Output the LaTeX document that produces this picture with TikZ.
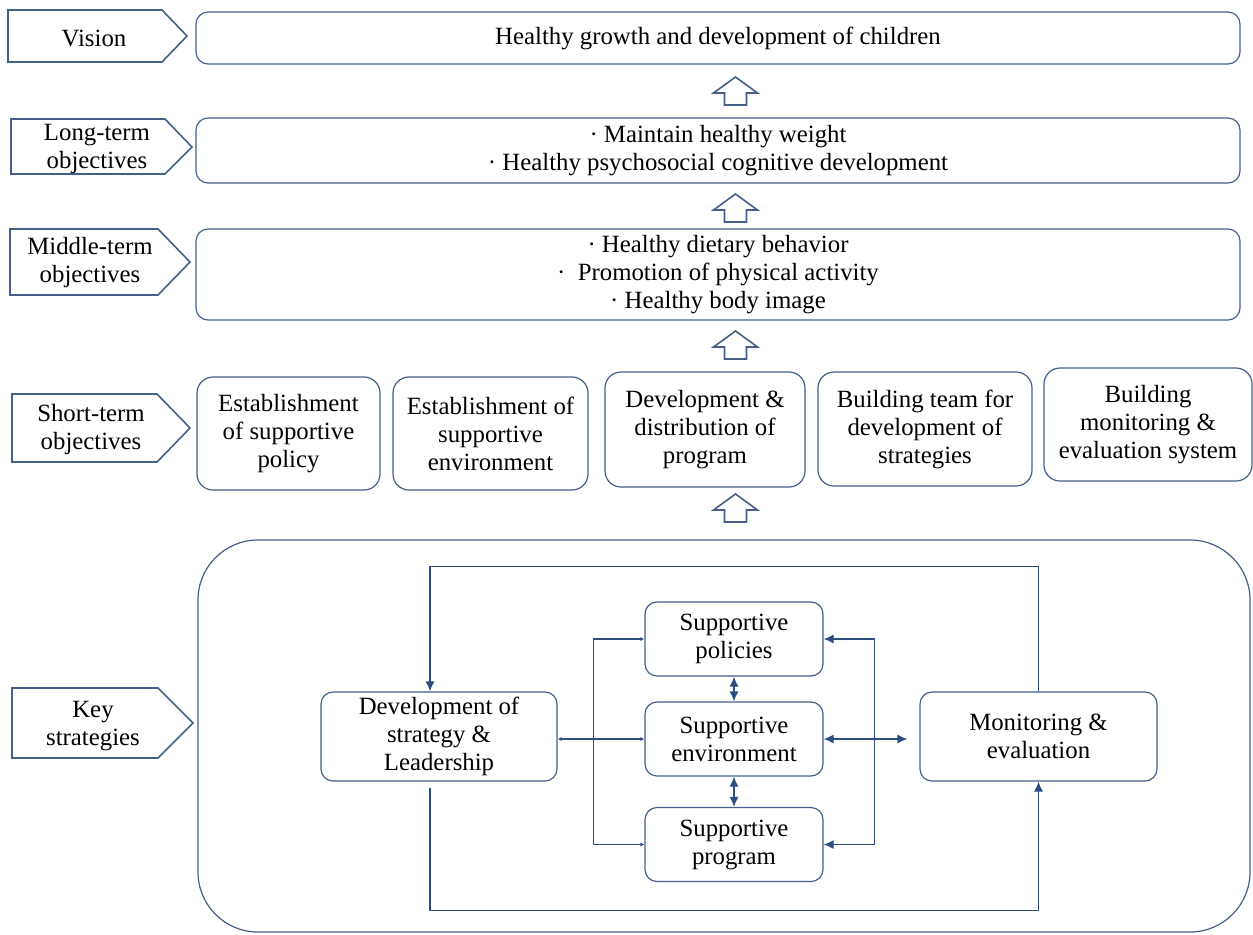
\documentclass[tikz,border=0pt]{standalone}
\usepackage{fontspec}
\setmainfont{Liberation Serif}
\usetikzlibrary{arrows.meta}
\definecolor{boxline}{RGB}{68,96,138}
\definecolor{linkline}{RGB}{45,78,128}
\tikzset{
	rbox/.style={draw=boxline, line width=0.6pt, rounded corners=6pt, align=center, inner sep=1pt},
	tagline/.style={draw=boxline, line width=0.8pt},
	tagtext/.style={align=center, inner sep=0pt},
	blockline/.style={draw=boxline, line width=0.8pt, fill=white},
	link/.style={draw=linkline, line width=0.6pt},
	bigtip/.style={-{Latex[length=5pt,width=4.5pt]}},
	twotip/.style={{Latex[length=5pt,width=4.5pt]}-{Latex[length=5pt,width=4.5pt]}},
	smalltip/.style={{Latex[length=2pt,width=2pt]}-{Latex[length=2pt,width=2pt]}}
}
\def\upblock(#1,#2){\draw[blockline, shift={(#1,#2)}] (0,0) -- (22,16) -- (11,16) -- (11,28) -- (-11,28) -- (-11,16) -- (-22,16) -- cycle;}

\begin{document}
\begin{tikzpicture}[x=0.5pt, y=-0.5pt, font=\fontsize{12.4}{14}\selectfont]
	%%%%% START %%%%%
	\useasboundingbox (0,0) rectangle (1253,934);
	
	% tags on the left
	\draw[tagline] (8,10) -- (162,10) -- (187,36) -- (162,62) -- (8,62) -- cycle;
	\node[tagtext] (tvis) at (94,38) {Vision};
	\draw[tagline] (11,119) -- (165,119) -- (192,147) -- (165,174) -- (11,174) -- cycle;
	\node[tagtext] (tlong) at (97,149) {Long-term\\objectives};
	\draw[tagline] (10,229) -- (158,229) -- (190,262) -- (158,295) -- (10,295) -- cycle;
	\node[tagtext] (tmid) at (90,263) {Middle-term\\objectives};
	\draw[tagline] (12,394) -- (157,394) -- (190,428) -- (157,462) -- (12,462) -- cycle;
	\node[tagtext] (tshort) at (91,430) {Short-term\\objectives};
	\draw[tagline] (12,688) -- (158,688) -- (193,723) -- (158,758) -- (12,758) -- cycle;
	\node[tagtext] (tkey) at (93,726) {Key\\strategies};
	
	% objectives
	\node[rbox, minimum width=522pt, minimum height=26pt] (vision) at (718,38) {Healthy growth and development of children};
	\node[rbox, minimum width=522pt, minimum height=32.5pt] (long) at (718,150.5) {· Maintain healthy weight\\· Healthy psychosocial cognitive development};
	\node[rbox, minimum width=522pt, minimum height=45.5pt] (mid) at (718,274.5) {· Healthy dietary behavior\\·~ Promotion of physical activity\\· Healthy body image};
	
	\node[rbox, rounded corners=8pt, minimum width=91.5pt, minimum height=56.5pt] (s1) at (288.5,433.5) {Establishment\\of supportive\\policy};
	\node[rbox, rounded corners=8pt, minimum width=97.5pt, minimum height=56.5pt] (s2) at (490.5,433.5) {Establishment of\\supportive\\environment};
	\node[rbox, rounded corners=8pt, minimum width=100pt, minimum height=57.5pt] (s3) at (705,429.5) {Development \&\\distribution of\\program};
	\node[rbox, rounded corners=8pt, minimum width=107pt, minimum height=57pt] (s4) at (925,429) {Building team for\\development of\\strategies};
	\node[rbox, rounded corners=8pt, minimum width=104pt, minimum height=56.5pt] (s5) at (1148,424.5) {Building\\monitoring \&\\evaluation system};
	
	\upblock(735.5,77)
	\upblock(735.5,194)
	\upblock(735.5,331)
	\upblock(735.5,494)
	
	% key strategies
	\node[rbox, rounded corners=30pt, minimum width=526pt, minimum height=196pt] (keybox) at (724,736) {};
	
	\node[rbox, minimum width=118pt, minimum height=44.5pt] (dev) at (439,736.5) {Development of\\strategy \&\\Leadership};
	\node[rbox, minimum width=89pt, minimum height=37pt] (pol) at (734,639) {Supportive\\policies};
	\node[rbox, minimum width=89pt, minimum height=37pt] (env) at (734,739) {Supportive\\environment};
	\node[rbox, minimum width=89pt, minimum height=37pt] (prg) at (734,844.5) {Supportive\\program};
	\node[rbox, minimum width=118.5pt, minimum height=44.5pt] (mon) at (1038.5,736.5) {Monitoring \&\\evaluation};
	
	\draw[link, bigtip] (mon.north) -- ++(0,-125) -| ([xshift=-4.5pt]dev.north);
	\draw[link, bigtip] ([xshift=-4.5pt,yshift=-3pt]dev.south) -- ++(0,123) -| (mon.south);
	
	\draw[link, smalltip] (pol.west) -- ++(-51,0) |- (prg.west);
	\draw[link, smalltip] (env.west -| dev.east) -- (env.west);
	\draw[link, twotip] (pol.east) -- ++(51,0) |- (prg.east);
	\draw[link, twotip, shorten >=6pt] (env.east) -- (env.east -| mon.west);
	\draw[link, twotip] (pol.south) -- (env.north);
	\draw[link, twotip] (env.south) -- (prg.north);
	%%%%% END %%%%%
\end{tikzpicture}
\end{document}
